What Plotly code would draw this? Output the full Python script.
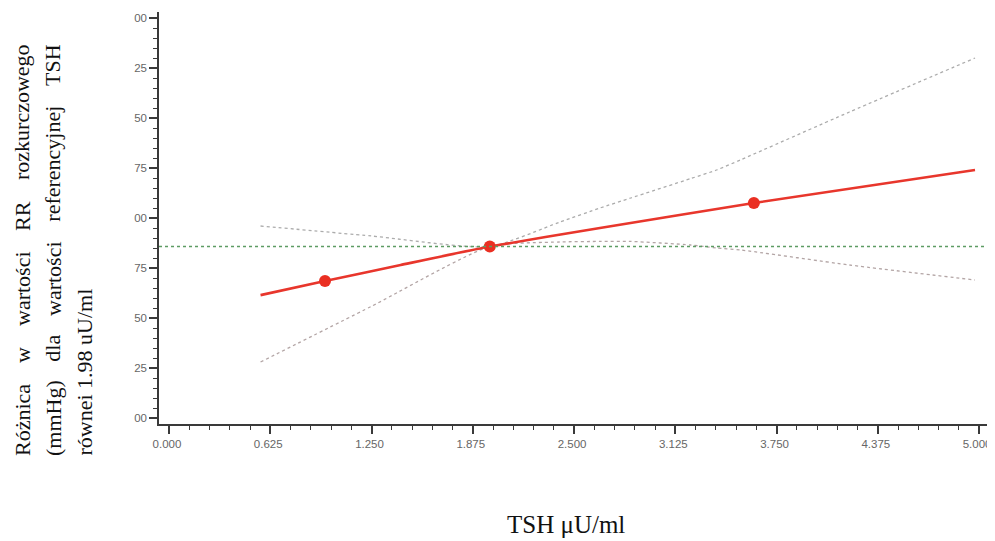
import plotly.graph_objects as go

# ---- data ----
TSH_FIT = [0.565, 0.963, 1.43, 1.98, 2.66, 3.61, 4.975]
DIFF_FIT = [-1.70, -1.205, -0.645, 0.0, 0.65, 1.525, 2.68]

TSH_PTS = [0.963, 1.98, 3.61]
DIFF_PTS = [-1.205, 0.0, 1.525]

TSH_CI = [0.565, 1.25, 1.98, 2.41, 2.66, 2.85, 3.22, 3.38, 3.53, 4.20, 4.975]
CI_LOW = [-4.04, -2.09, 0.0, 0.16, 0.18, 0.18, 0.055, -0.05, -0.12, -0.645, -1.17]
CI_HIGH = [0.72, 0.37, 0.0, 0.853, 1.35, 1.70, 2.38, 2.68, 3.04, 4.71, 6.60]

REF_DIFF = 0.0

X_TICKS = [0.0, 0.625, 1.25, 1.875, 2.5, 3.125, 3.75, 4.375, 5.0]
Y_TICKS = [-6.0, -4.25, -2.5, -0.75, 1.0, 2.75, 4.5, 6.25, 8.0]
# the reference shows only the last two digits of each y label
Y_TICKTEXT = [f"{abs(v):.2f}"[-2:] for v in Y_TICKS]

Y_TITLE_LINE1 = ["Różnica", "w", "wartości", "RR", "rozkurczowego"]
Y_TITLE_LINE2 = ["(mmHg)", "dla", "wartości", "referencyjnej", "TSH"]
Y_TITLE_LINE3 = "równei 1.98 uU/ml"
X_TITLE = "TSH μU/ml"

# ---- layout geometry (pixels) ----
# page body has an 8px margin, so figure coords = screen coords - 8
OFF = 8
W, H = 995, 541
L, R, T, B = 159 - OFF, 995 - (987 - OFF), 12 - OFF, 541 - (424 - OFF)
PW, PH = W - L - R, H - T - B


def px(xs):
    return (xs - OFF - L) / PW


def py(ys):
    return (H - B - (ys - OFF)) / PH


fig = go.Figure()

fig.add_trace(go.Scatter(x=TSH_CI, y=CI_HIGH, mode="lines",
                         line=dict(color="#acacac", width=1.3, dash="dot",
                                   shape="spline", smoothing=0.6),
                         showlegend=False, hoverinfo="skip"))
fig.add_trace(go.Scatter(x=TSH_CI, y=CI_LOW, mode="lines",
                         line=dict(color="#b3a5a5", width=1.3, dash="dot",
                                   shape="spline", smoothing=0.6),
                         showlegend=False, hoverinfo="skip"))

fig.add_shape(type="line", xref="x domain", yref="y", x0=0, x1=1,
              y0=REF_DIFF, y1=REF_DIFF,
              line=dict(color="#5d9c63", width=1.6, dash="dot"), layer="above")

fig.add_trace(go.Scatter(x=TSH_FIT, y=DIFF_FIT, mode="lines",
                         line=dict(color="#e8362c", width=2.6, shape="spline", smoothing=0.5),
                         showlegend=False))
fig.add_trace(go.Scatter(x=TSH_PTS, y=DIFF_PTS, mode="markers",
                         marker=dict(color="#ea2f22", size=12, line=dict(width=0)),
                         showlegend=False))

axis_common = dict(
    showline=True, linecolor="#3a3a3a", linewidth=1.5,
    ticks="outside", ticklen=8, tickwidth=1.5, tickcolor="#3a3a3a",
    showgrid=False, zeroline=False, automargin=False,
    tickfont=dict(family="Liberation Sans", size=11.5, color="#666666"),
)

fig.update_xaxes(
    range=[-10 / 162, 5.049],
    tickmode="array", tickvals=X_TICKS, tickformat=".3f",
    ticklabelshift=-2,
    minor=dict(dtick=0.125, tick0=0, ticks="outside", ticklen=4,
               tickwidth=1.3, tickcolor="#3a3a3a"),
    **axis_common,
)
fig.update_yaxes(
    range=[-6.21, 8.21],
    tickmode="array", tickvals=Y_TICKS, ticktext=Y_TICKTEXT,
    minor=dict(dtick=0.35, tick0=1.0, ticks="outside", ticklen=4,
               tickwidth=1.3, tickcolor="#3a3a3a"),
    **axis_common,
)

annotations = []
title_font = dict(family="Liberation Serif", size=22, color="#111111")

# justified first two lines of the y title, word by word
line1_centers = [420.0, 355.0, 289.0, 216.0, None]
line2_centers = [418.0, 347.7, 278.0, 163.7, None]
for words, centers, xc in ((Y_TITLE_LINE1, line1_centers, 22),
                           (Y_TITLE_LINE2, line2_centers, 53)):
    for i, wd in enumerate(words):
        if i == 0:
            yv, ya = py(457), "bottom"
        elif i == len(words) - 1:
            yv, ya = py(43), "top"
        else:
            yv, ya = py(centers[i]), "middle"
        annotations.append(dict(text=wd, x=px(xc), y=yv, xref="paper", yref="paper",
                                xanchor="center", yanchor=ya, textangle=-90,
                                showarrow=False, font=title_font, borderpad=0))
annotations.append(dict(text=Y_TITLE_LINE3, x=px(84), y=py(457), xref="paper", yref="paper",
                        xanchor="center", yanchor="bottom", textangle=-90,
                        showarrow=False, font=title_font, borderpad=0))
annotations.append(dict(text=X_TITLE, x=px(566), y=py(524), xref="paper", yref="paper",
                        xanchor="center", yanchor="middle", showarrow=False,
                        font=dict(family="Liberation Serif", size=25, color="#111111")))

fig.update_layout(
    width=W, height=H,
    margin=dict(l=L, r=R, t=T, b=B),
    paper_bgcolor="white", plot_bgcolor="white",
    annotations=annotations,
    showlegend=False,
)

fig.write_html("out.html")
